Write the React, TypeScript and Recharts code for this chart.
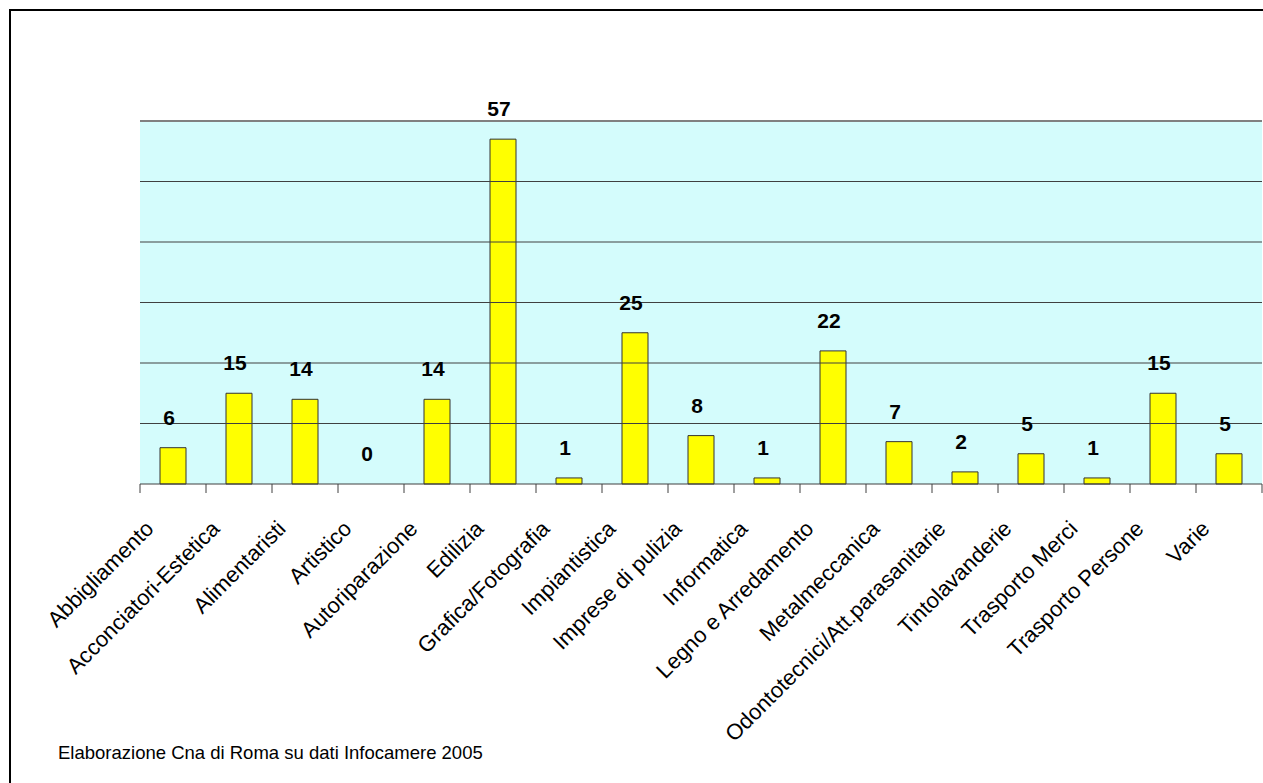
import React from "react";
import {
  Bar,
  ComposedChart,
  CartesianGrid,
  LabelList,
  Line,
  ReferenceLine,
  XAxis,
  YAxis,
} from "recharts";

// Imprese artigiane per settore (Elaborazione Cna di Roma su dati Infocamere 2005)
const CATEGORIES = [
  "Abbigliamento",
  "Acconciatori-Estetica",
  "Alimentaristi",
  "Artistico",
  "Autoriparazione",
  "Edilizia",
  "Grafica/Fotografia",
  "Impiantistica",
  "Imprese di pulizia",
  "Informatica",
  "Legno e Arredamento",
  "Metalmeccanica",
  "Odontotecnici/Att.parasanitarie",
  "Tintolavanderie",
  "Trasporto Merci",
  "Trasporto Persone",
  "Varie",
];
const VALUES = [6, 15, 14, 0, 14, 57, 1, 25, 8, 1, 22, 7, 2, 5, 1, 15, 5];
const Y_TICKS = [0, 10, 20, 30, 40, 50, 60];
const SOURCE = "Elaborazione Cna di Roma su dati Infocamere 2005";

const FONT = "'Liberation Sans', Arial, sans-serif";
const PLOT_BG = "#d4fcfc";
const GRID = "#404040";
const FRAME = "#a0a0a0";
const BAR = "#ffff00";

const rows = CATEGORIES.map((name, i) => ({ name, value: VALUES[i] }));

// category tick: tick mark on the band boundary + label rotated 45°
function CatTick(props: any) {
  const { x, y, payload, index, visibleTicksCount } = props;
  const half = payload.offset || 33;
  const last = index === visibleTicksCount - 1;
  const lx = x - 18;
  const ly = y + 46;
  return (
    <g>
      <line x1={x - half} x2={x - half} y1={y} y2={y + 9} stroke={GRID} />
      {last && <line x1={x + half} x2={x + half} y1={y} y2={y + 9} stroke={GRID} />}
      <text
        x={lx}
        y={ly}
        textAnchor="end"
        transform={`rotate(-45, ${lx}, ${ly})`}
        fontSize={22}
        fontFamily={FONT}
        fill="#000"
      >
        {payload.value}
      </text>
    </g>
  );
}

export default function App() {
  return (
    <div
      style={{
        position: "fixed",
        left: 0,
        top: 0,
        width: 1263,
        height: 783,
        overflow: "hidden",
        background: "#fff",
      }}
    >
      <style>{`html,body{margin:0;overflow:hidden;}`}</style>
      <svg
        width={1263}
        height={783}
        style={{ position: "absolute", left: 0, top: 0 }}
      >
        <path d="M10 783 V10 H1263" fill="none" stroke="#000" strokeWidth={2} />
      </svg>
      <div style={{ position: "absolute", left: 0, top: 0 }}>
        <ComposedChart
          width={1263}
          height={783}
          data={rows}
          margin={{ top: 121, right: 1, left: 140, bottom: 99 }}
          barSize={26}
        >
          <CartesianGrid
            vertical={false}
            horizontal={false}
            fill={PLOT_BG}
            fillOpacity={1}
            yAxisId="l"
          />
          <XAxis
            dataKey="name"
            interval={0}
            height={200}
            tickSize={0}
            tickMargin={0}
            tickLine={false}
            axisLine={{ stroke: GRID }}
            tick={<CatTick />}
          />
          <YAxis
            yAxisId="l"
            width={0}
            domain={[0, 60]}
            ticks={Y_TICKS}
            tick={false}
            tickLine={false}
            axisLine={{ stroke: FRAME, strokeWidth: 1.5 }}
          />
          <YAxis
            yAxisId="r"
            orientation="right"
            width={0}
            domain={[0, 60]}
            ticks={Y_TICKS}
            tick={false}
            tickLine={false}
            axisLine={{ stroke: FRAME, strokeWidth: 1.5 }}
          />
          {Y_TICKS.slice(1, -1).map((t) => (
            <ReferenceLine key={t} yAxisId="l" y={t} stroke={GRID} strokeWidth={1} />
          ))}
          <ReferenceLine yAxisId="l" y={60} stroke="#808080" strokeWidth={2} />
          <Bar
            yAxisId="l"
            dataKey="value"
            fill={BAR}
            stroke="#333"
            strokeWidth={1}
            isAnimationActive={false}
          />
          <Line
            yAxisId="l"
            dataKey="value"
            stroke="none"
            dot={false}
            activeDot={false}
            isAnimationActive={false}
          >
            <LabelList
              dataKey="value"
              position="top"
              offset={23}
              dx={-4}
              fill="#000"
              fontSize={21}
              fontWeight="bold"
              fontFamily={FONT}
            />
          </Line>
        </ComposedChart>
      </div>
      <div
        style={{
          position: "absolute",
          left: 58,
          top: 744,
          fontFamily: FONT,
          fontSize: 18.5,
          lineHeight: 1,
          color: "#000",
          whiteSpace: "nowrap",
        }}
      >
        {SOURCE}
      </div>
    </div>
  );
}
